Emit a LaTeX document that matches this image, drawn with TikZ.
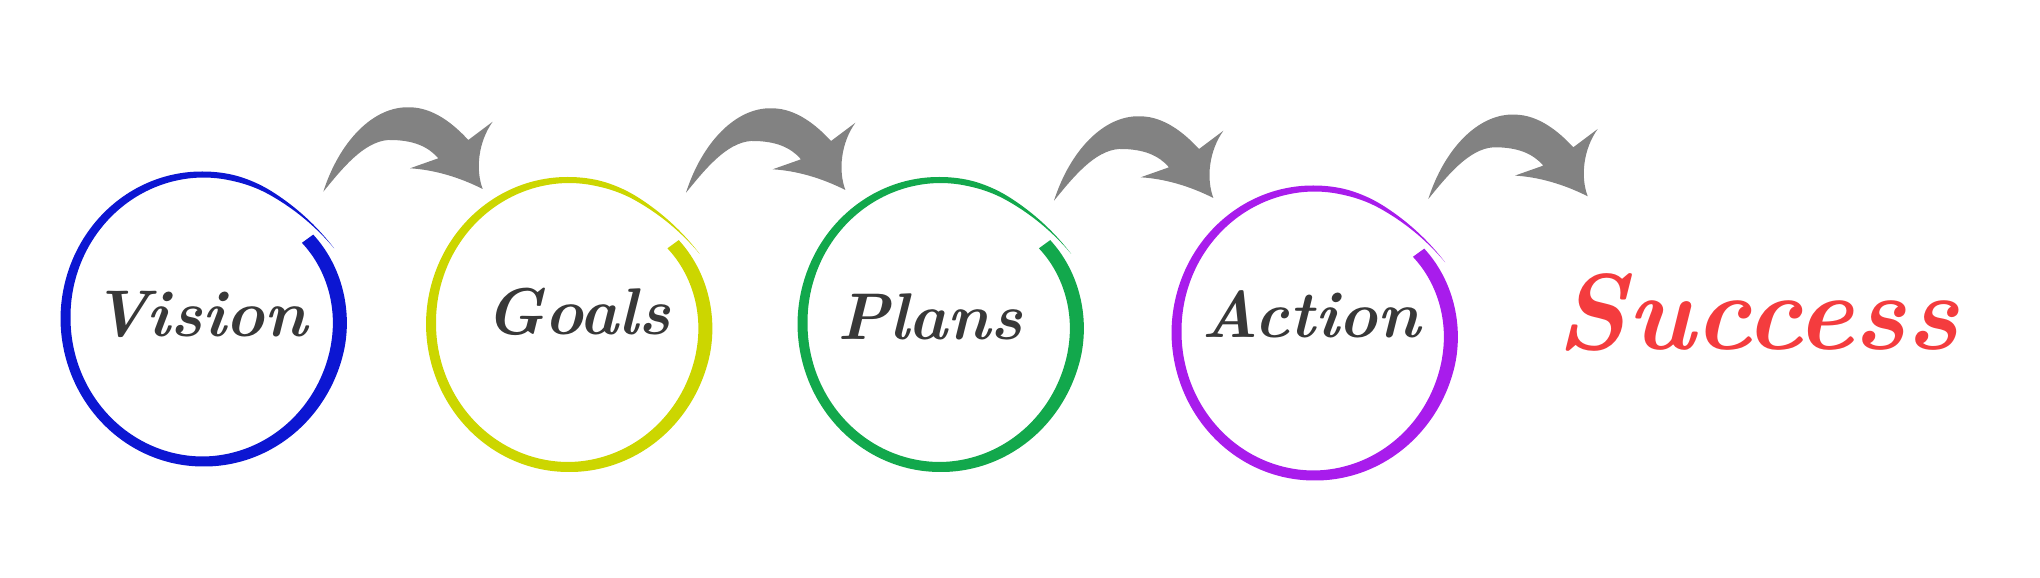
\documentclass[tikz,border=0pt]{standalone}
\usepackage{fontspec}
\usepackage{tikz}
\usetikzlibrary{positioning}
\definecolor{visionblue}{RGB}{12,22,210}
\definecolor{goalslime}{RGB}{204,214,0}
\definecolor{plansgreen}{RGB}{18,168,76}
\definecolor{actionpurple}{RGB}{168,28,236}
\definecolor{arrowgray}{RGB}{130,130,130}
\definecolor{inkgray}{RGB}{56,56,56}
\definecolor{successred}{RGB}{244,60,62}
% radius factor and brush width along the ring
\pgfmathdeclarefunction{ringf}{1}{\pgfmathparse{1+0.07*(max(0,60-#1)/33)^2-0.06*(max(0,#1-345)/51)^2}}
\pgfmathdeclarefunction{ringw}{1}{\pgfmathparse{6*min(1,(#1-27)/50)+4*min(1,max(0,(#1-90)/90))+4*min(1,max(0,(#1-270)/80))}}
\newcommand{\brushring}[2]{%
  \fill[#2,shift={(#1)}]
    plot[domain=27:396,samples=240,variable=\t]
      ({(137.5*ringf(\t)+0.5*ringw(\t))*cos(\t)},{(143.5*ringf(\t)+0.5*ringw(\t))*sin(\t)})
    -- plot[domain=396:27,samples=240,variable=\t]
      ({(137.5*ringf(\t)-0.5*ringw(\t))*cos(\t)},{(143.5*ringf(\t)-0.5*ringw(\t))*sin(\t)})
    -- cycle;}
\tikzset{
  lbl/.style={font=\fontsize{66}{66}\selectfont\bfseries\itshape,
              text=inkgray,anchor=base,inner sep=0pt},
  bigarrow/.pic={
    \fill[arrowgray] (0,0) .. controls (16,50) and (50,86) .. (86.7,84.4)
      .. controls (110,84) and (130,68) .. (145,51.7) -- (169.4,70)
      .. controls (155,50) and (152,22) .. (159.4,2.7)
      .. controls (135,15) and (110,22) .. (86.7,23.4) -- (115,33.4)
      .. controls (105,45) and (90,52) .. (65,51.7)
      .. controls (40,50) and (18,22) .. (0,0) -- cycle;},
}
\begin{document}
\begin{tikzpicture}[x=1pt,y=1pt]
  \useasboundingbox (0,0) rectangle (2040,578);

  \coordinate (visionc) at (203,260);
  \coordinate (goalsc)  at (568.5,254.5);
  \coordinate (plansc)  at (940,254.5);
  \coordinate (actionc) at (1314,246);

  \brushring{visionc}{visionblue}
  \brushring{goalsc}{goalslime}
  \brushring{plansc}{plansgreen}
  \brushring{actionc}{actionpurple}

  \node[lbl] (vision) at (200,241) {Vision};
  \node[lbl] (goals)  at (578,243) {Goals};
  \node[lbl] (plans)  at (930,238) {Plans};
  \node[lbl] (action) at (1311,240) {Action};
  \node[lbl,font=\fontsize{108}{108}\selectfont\bfseries\itshape,
        text=successred] (success) at (1758,228) {Success};

  \pic (arrowa) at (323.3,386.3) {bigarrow};
  \pic (arrowb) at (686,385.3) {bigarrow};
  \pic (arrowc) at (1054,377.3) {bigarrow};
  \pic (arrowd) at (1428.3,379) {bigarrow};
\end{tikzpicture}
\end{document}
